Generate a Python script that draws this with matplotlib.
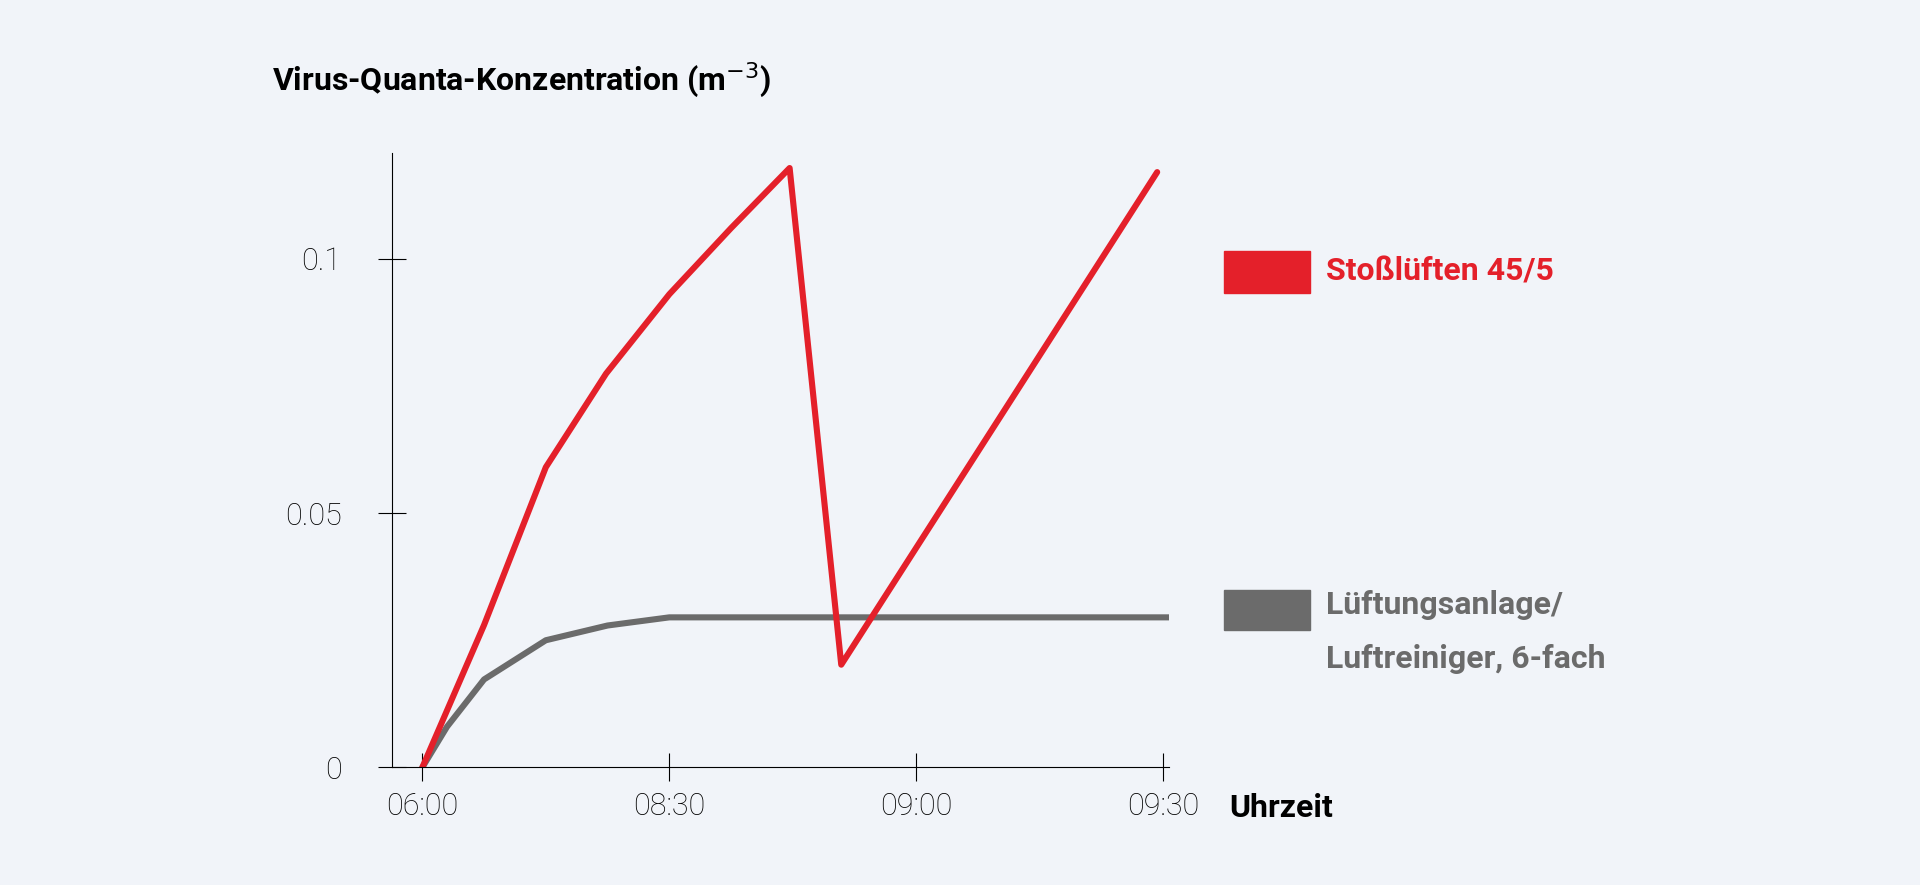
import matplotlib
matplotlib.use("Agg")
import matplotlib.pyplot as plt
from matplotlib.patches import Rectangle

# data
red_x = [0, 0.25, 0.5, 0.744, 1.0, 1.25, 1.487, 1.696, 2.975]
red_y = [0, 0.028, 0.059, 0.0774, 0.093, 0.106, 0.1178, 0.0202, 0.117]
gray_x = [0, 0.1, 0.25, 0.5, 0.75, 1.0, 3.03]
gray_y = [0, 0.008, 0.0173, 0.025, 0.0279, 0.0295, 0.0295]
xticks = [0, 1, 2, 3]
xlabels = ["06:00", "08:30", "09:00", "09:30"]
yticks = [0, 0.05, 0.1]
ylabels = ["0", "0.05", "0.1"]

bg = "#f1f4f9"
red = "#e4202a"
gray = "#6b6b6b"
plt.rcParams['font.family'] = ['Roboto', 'DejaVu Sans']

fig = plt.figure(figsize=(19.2, 8.85), dpi=100, facecolor=bg)
ax = fig.add_axes([0.204, 0.1328, 0.405, 0.694])
ax.set_facecolor(bg)
ax.plot(gray_x, gray_y, color=gray, lw=4.4, solid_capstyle='round', solid_joinstyle='round')
ax.plot(red_x, red_y, color=red, lw=4.4, solid_capstyle='round', solid_joinstyle='round')
ax.set_xlim(-0.124, 3.024)
ax.set_ylim(0, 0.1207)
for s in ['top', 'right']:
    ax.spines[s].set_visible(False)
for s in ['left', 'bottom']:
    ax.spines[s].set_linewidth(0.8)
ax.set_xticks(xticks)
ax.set_xticklabels(xlabels, fontsize=22, fontweight='light')
ax.set_yticks(yticks)
ax.set_yticklabels(ylabels, fontsize=22, fontweight='light')
ax.tick_params(direction='inout', length=20, width=0.8, pad=8)
ax.tick_params(axis='y', pad=-2)
for lab in ax.get_yticklabels():
    lab.set_x(-0.05)

fig.text(0.1416, 0.910, "Virus-Quanta-Konzentration (m$^{-3}$)", fontsize=23, fontweight='bold', va='center')
fig.text(0.640, 0.087, "Uhrzeit", fontsize=23, fontweight='bold', va='center')

fig.patches.append(Rectangle((1000/1568, 1-239/723), 70/1568, 34/723, transform=fig.transFigure, color=red))
fig.patches.append(Rectangle((1000/1568, 1-515/723), 70/1568, 33/723, transform=fig.transFigure, color=gray))
fig.text(1083/1568, 1-222/723, "Stoßlüften 45/5", fontsize=23, fontweight='bold', color=red, va='center')
fig.text(1083/1568, 1-494/723, "Lüftungsanlage/", fontsize=23, fontweight='bold', color=gray, va='center')
fig.text(1083/1568, 1-538/723, "Luftreiniger, 6-fach", fontsize=23, fontweight='bold', color=gray, va='center')

fig.savefig("out.png", dpi=100, facecolor=bg)
